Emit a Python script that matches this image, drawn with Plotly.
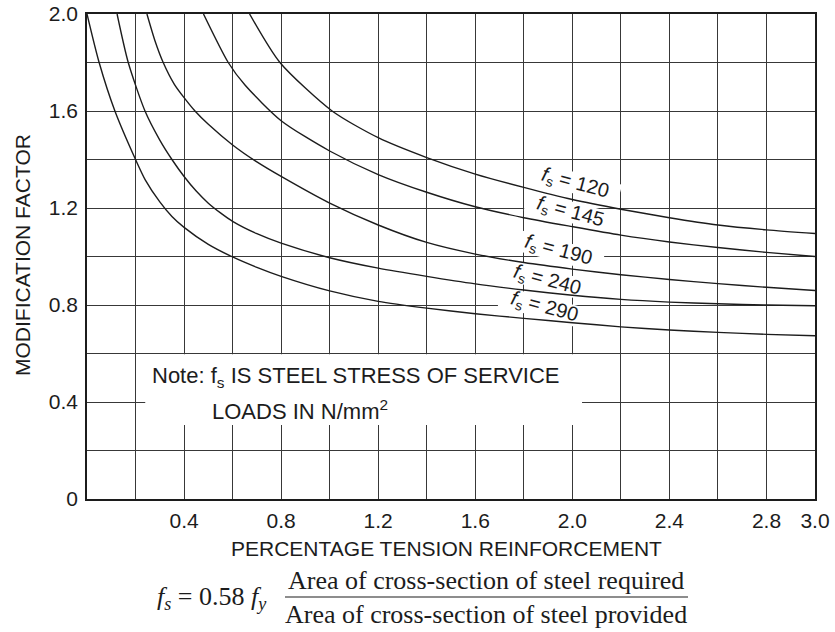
import math
import plotly.graph_objects as go

# ---- data -------------------------------------------------------------
# percentage tension reinforcement (x) vs modification factor (y), per steel stress fs
fs_labels = ["120", "145", "190", "240", "290"]

x_fs120 = [0.67, 0.795, 1.01, 1.2, 1.4, 1.6, 1.8, 2.0, 2.2, 2.4, 2.6, 2.8, 3.0]
y_fs120 = [2.0, 1.80, 1.60, 1.49, 1.408, 1.34, 1.285, 1.235, 1.195, 1.16, 1.13, 1.11, 1.095]

x_fs145 = [0.48, 0.582, 0.651, 0.8, 1.0, 1.2, 1.4, 1.6, 1.8, 2.0, 2.2, 2.4, 2.6, 2.8, 3.0]
y_fs145 = [2.0, 1.80, 1.707, 1.56, 1.435, 1.338, 1.265, 1.205, 1.16, 1.123, 1.088, 1.06, 1.037, 1.017, 1.0]

x_fs190 = [0.247, 0.28, 0.314, 0.36, 0.4, 0.445, 0.5, 0.6, 0.7, 0.8, 1.0, 1.2, 1.4, 1.6, 1.8, 2.0, 2.2, 2.4, 2.6, 2.8, 3.0]
y_fs190 = [2.0, 1.89, 1.80, 1.71, 1.655, 1.60, 1.545, 1.46, 1.39, 1.33, 1.22, 1.13, 1.058, 1.01, 0.975, 0.948, 0.925, 0.905, 0.888, 0.873, 0.86]

x_fs240 = [0.124, 0.17, 0.239, 0.3, 0.35, 0.4, 0.45, 0.5, 0.55, 0.6, 0.7, 0.8, 1.0, 1.2, 1.4, 1.6, 1.8, 2.0, 2.2, 2.4, 2.6, 2.8, 3.0]
y_fs240 = [2.0, 1.80, 1.60, 1.48, 1.40, 1.33, 1.27, 1.22, 1.18, 1.145, 1.094, 1.055, 0.995, 0.952, 0.918, 0.887, 0.862, 0.84, 0.823, 0.812, 0.805, 0.80, 0.797]

x_fs290 = [0.0, 0.05, 0.115, 0.2, 0.24, 0.3, 0.35, 0.4, 0.5, 0.6, 0.7, 0.8, 1.0, 1.2, 1.4, 1.6, 1.8, 2.0, 2.2, 2.4, 2.6, 2.8, 3.0]
y_fs290 = [2.0, 1.80, 1.60, 1.40, 1.316, 1.225, 1.165, 1.12, 1.05, 0.998, 0.955, 0.918, 0.858, 0.815, 0.787, 0.764, 0.745, 0.727, 0.71, 0.697, 0.687, 0.679, 0.673]

series_x = [x_fs120, x_fs145, x_fs190, x_fs240, x_fs290]
series_y = [y_fs120, y_fs145, y_fs190, y_fs240, y_fs290]

# curve label anchor points (data units)
label_x = [2.011, 1.994, 1.941, 1.896, 1.887]
label_y = [1.303, 1.183, 1.023, 0.903, 0.788]

# grid every 0.2, labels only on some of them
x_tickvals = [round(0.2 * i, 1) for i in range(16)]
x_ticktext = ["", "", "0.4", "", "0.8", "", "1.2", "", "1.6", "", "2.0", "", "2.4", "", "2.8", "3.0"]
y_tickvals = [round(0.2 * i, 1) for i in range(11)]
y_ticktext = ["0", "", "0.4", "", "0.8", "", "1.2", "", "1.6", "", "2.0"]

# ---- layout geometry ---------------------------------------------------
W, H = 835, 632
ML, MR, MT, MB = 87, 20, 14, 133
PW, PH = W - ML - MR, H - MT - MB
X_RANGE = (0.0, 3.0)
Y_RANGE = (0.0, 2.0)
PX_X = PW / (X_RANGE[1] - X_RANGE[0])
PX_Y = PH / (Y_RANGE[1] - Y_RANGE[0])

SANS = "Liberation Sans, Arial, Helvetica, sans-serif"
SERIF = "Liberation Serif, Times New Roman, serif"
INK = "#1c1c1c"
GRID = "#383838"


def paper(px, py):
    """page pixel -> paper coordinates"""
    return (px - ML) / PW, (H - MB - py) / PH


def rotated_box(cx, cy, w_px, h_px, ang_deg):
    """SVG path of a rectangle centred on (cx, cy) in data units,
    rotated clockwise on screen by ang_deg"""
    a = math.radians(ang_deg)
    pts = []
    for sx, sy in [(-1, -1), (1, -1), (1, 1), (-1, 1)]:
        dx, dy = sx * w_px / 2, sy * h_px / 2
        rx = dx * math.cos(a) - dy * math.sin(a)
        ry = dx * math.sin(a) + dy * math.cos(a)
        pts.append((cx + rx / PX_X, cy - ry / PX_Y))
    return "M " + " L ".join(f"{x:.4f},{y:.4f}" for x, y in pts) + " Z"


fig = go.Figure()

for xs, ys in zip(series_x, series_y):
    fig.add_trace(go.Scatter(
        x=xs, y=ys, mode="lines",
        line=dict(color=INK, width=1.4, shape="spline", smoothing=0.7),
        hoverinfo="skip", showlegend=False, cliponaxis=True,
    ))

shapes = []
# white panel behind the note (hides the grid, sits under the curves)
shapes.append(dict(type="rect", xref="x", yref="y", x0=0.24, x1=2.04, y0=0.305, y1=0.597,
                   fillcolor="white", line=dict(width=0), layer="between"))
# white patches behind the curve labels
for cx, cy in zip(label_x, label_y):
    shapes.append(dict(type="path", xref="x", yref="y", path=rotated_box(cx, cy, 92, 21, 15),
                       fillcolor="white", line=dict(width=0), layer="between"))

# fraction bar of the formula
fx0, fy = paper(285, 597)
fx1, _ = paper(688, 597)
shapes.append(dict(type="line", xref="paper", yref="paper", x0=fx0, x1=fx1, y0=fy, y1=fy,
                   line=dict(color=INK, width=1.2)))

annotations = []
for txt, cx, cy in zip(fs_labels, label_x, label_y):
    annotations.append(dict(
        x=cx, y=cy, xref="x", yref="y", text=f"<i>f</i><sub>s</sub> = {txt}",
        showarrow=False, textangle=15, xanchor="center", yanchor="middle",
        font=dict(family=SANS, size=20, color=INK),
    ))

# note text
nx, ny = paper(150, 377)
annotations.append(dict(x=nx, y=ny, xref="paper", yref="paper", showarrow=False,
                        text="Note: f<sub>s</sub> IS STEEL STRESS OF SERVICE",
                        xanchor="left", yanchor="middle",
                        font=dict(family=SANS, size=22, color=INK)))
nx2, ny2 = paper(210, 410)
annotations.append(dict(x=nx2, y=ny2, xref="paper", yref="paper", showarrow=False,
                        text="LOADS IN N/mm<sup>2</sup>",
                        xanchor="left", yanchor="middle",
                        font=dict(family=SANS, size=22, color=INK)))

# axis titles
tx, ty = paper(446, 548)
annotations.append(dict(x=tx, y=ty, xref="paper", yref="paper", showarrow=False,
                        text="PERCENTAGE TENSION REINFORCEMENT",
                        xanchor="center", yanchor="middle",
                        font=dict(family=SANS, size=21, color=INK)))
tx, ty = paper(22, 255)
annotations.append(dict(x=tx, y=ty, xref="paper", yref="paper", showarrow=False,
                        text="MODIFICATION FACTOR", textangle=-90,
                        xanchor="center", yanchor="middle",
                        font=dict(family=SANS, size=21, color=INK)))

# formula
tx, ty = paper(212, 598)
annotations.append(dict(x=tx, y=ty, xref="paper", yref="paper", showarrow=False,
                        text="<i>f</i><sub><i>s</i></sub> = 0.58 <i>f</i><sub><i>y</i></sub>",
                        xanchor="center", yanchor="middle",
                        font=dict(family=SERIF, size=26, color=INK)))
tx, ty = paper(486, 580)
annotations.append(dict(x=tx, y=ty, xref="paper", yref="paper", showarrow=False,
                        text="Area of cross-section of steel required",
                        xanchor="center", yanchor="middle",
                        font=dict(family=SERIF, size=26, color=INK)))
tx, ty = paper(486, 614)
annotations.append(dict(x=tx, y=ty, xref="paper", yref="paper", showarrow=False,
                        text="Area of cross-section of steel provided",
                        xanchor="center", yanchor="middle",
                        font=dict(family=SERIF, size=26, color=INK)))

fig.update_layout(
    width=W, height=H,
    margin=dict(l=ML, r=MR, t=MT, b=MB, pad=0, autoexpand=False),
    paper_bgcolor="white", plot_bgcolor="white",
    shapes=shapes, annotations=annotations,
    showlegend=False,
    xaxis=dict(range=list(X_RANGE), tickvals=x_tickvals, ticktext=x_ticktext,
               showgrid=True, gridcolor=GRID, gridwidth=1.3, zeroline=False,
               showline=True, linecolor=INK, linewidth=1.5, mirror=True,
               ticks="outside", ticklen=2, tickcolor="rgba(0,0,0,0)", automargin=False,
               tickfont=dict(family=SANS, size=21, color=INK), fixedrange=True),
    yaxis=dict(range=list(Y_RANGE), tickvals=y_tickvals, ticktext=y_ticktext,
               showgrid=True, gridcolor=GRID, gridwidth=1.3, zeroline=False,
               showline=True, linecolor=INK, linewidth=1.5, mirror=True,
               ticks="outside", ticklen=3, tickcolor="rgba(0,0,0,0)", automargin=False,
               tickfont=dict(family=SANS, size=21, color=INK), fixedrange=True),
)

fig.write_html("out.html")
